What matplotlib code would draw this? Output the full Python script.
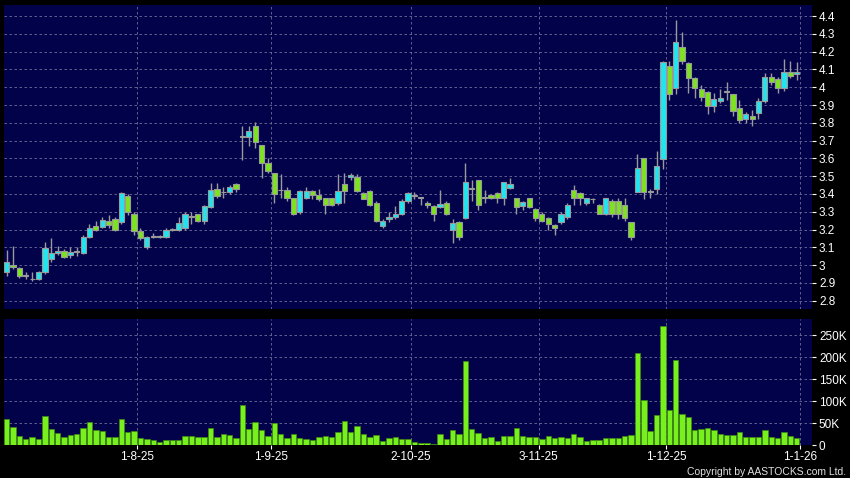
import numpy as np
import matplotlib
matplotlib.use("Agg")
import matplotlib.pyplot as plt

plt.rcParams["font.family"] = ["Liberation Sans", "DejaVu Sans"]

opens = [2.96, 3.00, 2.985, 2.94, 2.92, 2.92, 2.96, 3.035, 3.07, 3.08,
         3.057, 3.075, 3.07, 3.16, 3.22, 3.215, 3.25, 3.26, 3.24, 3.39,
         3.29, 3.19, 3.10, 3.16, 3.16, 3.16, 3.20, 3.20, 3.21, 3.27,
         3.285, 3.25, 3.325, 3.43, 3.41, 3.41, 3.455, 3.72, 3.722, 3.78,
         3.673, 3.572, 3.52, 3.42, 3.42, 3.376, 3.30, 3.38, 3.418, 3.393,
         3.376, 3.376, 3.35, 3.456, 3.494, 3.494, 3.404, 3.415, 3.35, 3.222,
         3.26, 3.272, 3.29, 3.362, 3.39, 3.38, 3.352, 3.334, 3.325, 3.352,
         3.20, 3.244, 3.263, 3.43, 3.48, 3.38, 3.393, 3.404, 3.38, 3.432,
         3.38, 3.334, 3.376, 3.313, 3.288, 3.263, 3.225, 3.244, 3.272, 3.42,
         3.404, 3.35, 3.37, 3.34, 3.29, 3.362, 3.362, 3.34, 3.244, 3.413,
         3.60, 3.413, 3.43, 3.595, 4.12, 3.994, 4.227, 4.138, 4.05, 3.99,
         3.971, 3.894, 3.922, 3.975, 3.96, 3.881, 3.82, 3.84, 3.853, 3.922,
         4.06, 4.046, 3.994, 4.087, 4.074]
highs = [3.085, 3.11, 2.99, 2.96, 2.96, 2.965, 3.13, 3.15, 3.11, 3.09,
         3.10, 3.10, 3.17, 3.23, 3.25, 3.27, 3.28, 3.27, 3.41, 3.40,
         3.30, 3.21, 3.165, 3.18, 3.17, 3.21, 3.21, 3.27, 3.30, 3.30,
         3.29, 3.34, 3.46, 3.46, 3.44, 3.45, 3.46, 3.78, 3.78, 3.805,
         3.675, 3.60, 3.52, 3.51, 3.44, 3.38, 3.42, 3.44, 3.42, 3.43,
         3.38, 3.38, 3.51, 3.52, 3.52, 3.51, 3.41, 3.42, 3.36, 3.26,
         3.30, 3.33, 3.37, 3.41, 3.41, 3.38, 3.36, 3.34, 3.42, 3.36,
         3.26, 3.25, 3.572, 3.48, 3.48, 3.42, 3.40, 3.41, 3.47, 3.49,
         3.38, 3.36, 3.38, 3.32, 3.30, 3.27, 3.23, 3.30, 3.35, 3.45,
         3.41, 3.38, 3.38, 3.345, 3.38, 3.37, 3.38, 3.38, 3.245, 3.625,
         3.60, 3.43, 3.64, 4.15, 4.15, 4.38, 4.31, 4.14, 4.06, 4.01,
         3.98, 3.97, 3.99, 4.03, 3.96, 3.93, 3.86, 3.87, 3.94, 4.08,
         4.08, 4.06, 4.16, 4.15, 4.14]
lows = [2.94, 2.98, 2.93, 2.92, 2.91, 2.915, 2.95, 3.02, 3.06, 3.04,
        3.04, 3.05, 3.065, 3.15, 3.19, 3.21, 3.21, 3.19, 3.23, 3.28,
        3.17, 3.14, 3.09, 3.15, 3.155, 3.155, 3.19, 3.19, 3.20, 3.23,
        3.24, 3.23, 3.32, 3.38, 3.38, 3.40, 3.41, 3.59, 3.67, 3.66,
        3.49, 3.52, 3.35, 3.38, 3.36, 3.28, 3.29, 3.37, 3.37, 3.36,
        3.29, 3.33, 3.34, 3.35, 3.48, 3.41, 3.37, 3.33, 3.24, 3.21,
        3.24, 3.26, 3.28, 3.35, 3.37, 3.34, 3.32, 3.25, 3.32, 3.28,
        3.125, 3.14, 3.26, 3.36, 3.31, 3.35, 3.37, 3.35, 3.34, 3.43,
        3.29, 3.31, 3.32, 3.25, 3.24, 3.20, 3.17, 3.23, 3.26, 3.34,
        3.34, 3.34, 3.35, 3.285, 3.28, 3.27, 3.26, 3.25, 3.14, 3.41,
        3.37, 3.38, 3.40, 3.54, 3.93, 3.96, 4.13, 3.97, 3.94, 3.92,
        3.85, 3.86, 3.91, 3.93, 3.84, 3.80, 3.80, 3.78, 3.82, 3.91,
        4.01, 3.97, 3.98, 4.05, 4.04]
closes = [3.02, 2.99, 2.94, 2.94, 2.92, 2.96, 3.095, 3.067, 3.08, 3.045,
          3.075, 3.075, 3.16, 3.21, 3.20, 3.255, 3.225, 3.20, 3.405, 3.30,
          3.19, 3.15, 3.16, 3.16, 3.16, 3.20, 3.20, 3.235, 3.285, 3.27,
          3.25, 3.335, 3.42, 3.39, 3.41, 3.44, 3.43, 3.72, 3.752, 3.69,
          3.572, 3.527, 3.40, 3.42, 3.38, 3.29, 3.418, 3.418, 3.393, 3.374,
          3.34, 3.336, 3.415, 3.418, 3.507, 3.415, 3.374, 3.336, 3.25, 3.25,
          3.272, 3.285, 3.362, 3.404, 3.39, 3.38, 3.336, 3.29, 3.344, 3.29,
          3.235, 3.157, 3.465, 3.43, 3.336, 3.38, 3.376, 3.38, 3.465, 3.454,
          3.325, 3.355, 3.325, 3.263, 3.25, 3.23, 3.21, 3.286, 3.336, 3.376,
          3.376, 3.376, 3.37, 3.29, 3.376, 3.286, 3.29, 3.263, 3.16, 3.544,
          3.413, 3.413, 3.556, 4.14, 3.96, 4.252, 4.149, 4.05, 3.994, 3.943,
          3.894, 3.932, 3.941, 3.975, 3.866, 3.816, 3.85, 3.82, 3.922, 4.06,
          4.03, 3.997, 4.087, 4.063, 4.087]
volumes_k = [59, 41, 20, 14, 18, 13, 66, 37, 28, 18,
             22, 25, 38, 53, 34, 32, 18, 18, 60, 30,
             31, 16, 13, 11, 7, 11, 11, 11, 21, 21,
             19, 19, 39, 18, 26, 22, 16, 91, 37, 52,
             34, 20, 51, 24, 17, 24, 15, 14, 12, 19,
             20, 19, 29, 54, 30, 44, 25, 19, 22, 9,
             17, 18, 13, 14, 6, 4, 4, 3, 24, 14,
             34, 25, 191, 36, 27, 17, 18, 10, 21, 21,
             39, 20, 19, 19, 14, 20, 15, 18, 17, 25,
             18, 10, 12, 12, 16, 15, 15, 20, 22, 209,
             103, 33, 69, 271, 79, 193, 70, 63, 35, 37,
             38, 34, 24, 23, 23, 30, 18, 18, 18, 34,
             18, 15, 29, 20, 16]

month_ticks = [20.5, 41.5, 63.5, 83.5, 103.5, 124.5]
month_labels = ["1-8-25", "1-9-25", "2-10-25", "3-11-25", "1-12-25", "1-1-26"]
price_ticks = [2.8, 2.9, 3.0, 3.1, 3.2, 3.3, 3.4, 3.5, 3.6, 3.7, 3.8, 3.9, 4.0, 4.1, 4.2, 4.3, 4.4]
vol_ticks = [0, 50, 100, 150, 200, 250]

o = np.array(opens)
h = np.array(highs)
l = np.array(lows)
c = np.array(closes)
v = np.array(volumes_k)
x = np.arange(len(o))

navy = "#02024a"
up_col = "#22e4ef"
down_col = "#7de21f"
grid_col = "#6e6e9c"

fig = plt.figure(figsize=(8.5, 4.78), dpi=100, facecolor="black")
ax = fig.add_axes([0.0047, 0.3536, 0.9506, 0.636], facecolor=navy)
axv = fig.add_axes([0.0047, 0.069, 0.9506, 0.2636], facecolor=navy)

# candles
up = c >= o
body_bot = np.minimum(o, c)
body_h = np.maximum(np.abs(c - o), 0.004)
ax.vlines(x, l, h, color="#9a9a9a", linewidth=1, zorder=2)
ax.bar(x[up], body_h[up], bottom=body_bot[up], width=0.82,
       color=up_col, edgecolor="#9a9a9a", linewidth=0.8, zorder=3)
ax.bar(x[~up], body_h[~up], bottom=body_bot[~up], width=0.82,
       color=down_col, edgecolor="#9a9a9a", linewidth=0.8, zorder=3)

axv.bar(x, v, width=0.85, color="#78f01e", edgecolor="#3f8a10", linewidth=0.5, zorder=3)

for a in (ax, axv):
    a.set_xlim(-0.42, 126.4)
    a.set_xticks(month_ticks)
    a.yaxis.tick_right()
    a.grid(True, color=grid_col, linestyle=(0, (3, 3)), linewidth=0.6)
    a.set_axisbelow(True)
    for s in a.spines.values():
        s.set_visible(False)
    a.tick_params(colors="white", labelcolor="white", labelsize=8.5, length=3, width=0.8, pad=2)

ax.set_ylim(2.754, 4.462)
ax.set_yticks(price_ticks)
ax.set_yticklabels([f"{t:g}" for t in price_ticks])
ax.tick_params(axis="x", length=0, labelbottom=False)

axv.set_ylim(0, 287)
axv.set_yticks(vol_ticks)
axv.set_yticklabels([f"{t}K" if t else "0" for t in vol_ticks])
axv.set_xticklabels(month_labels)
axv.tick_params(axis="x", pad=1)

fig.text(0.995, 0.003, "Copyright by AASTOCKS.com Ltd.", color="#e0e0e0",
         fontsize=7.5, ha="right", va="bottom")

fig.savefig("out.png", dpi=100, facecolor="black")
